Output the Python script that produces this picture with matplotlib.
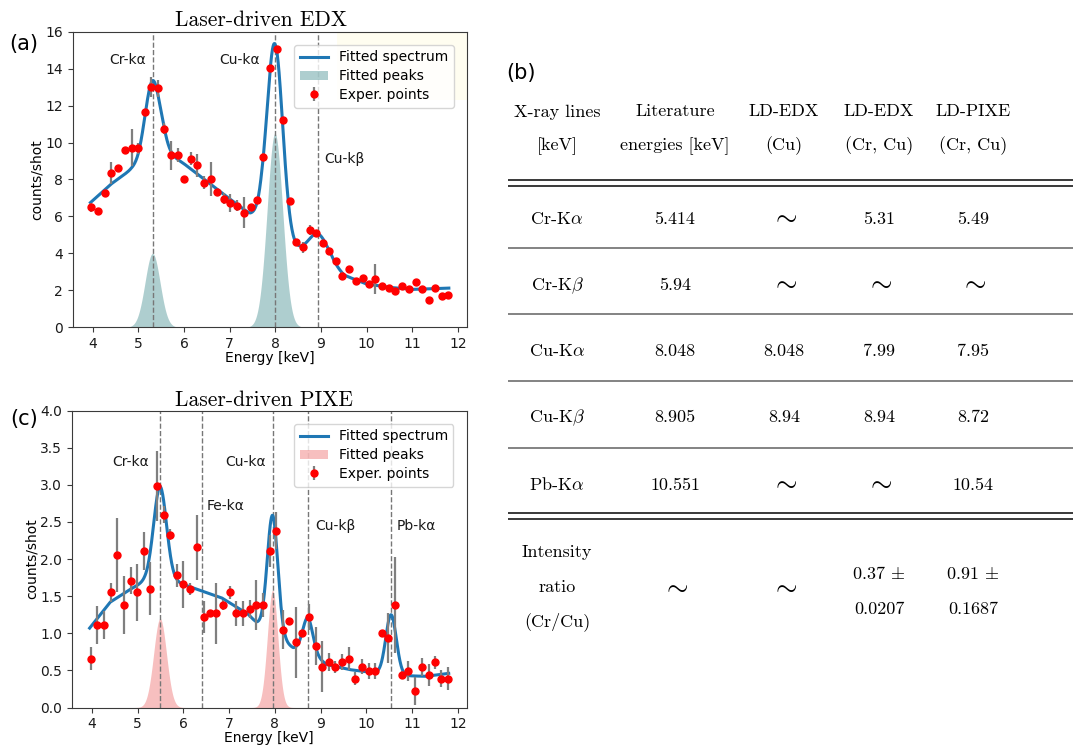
import numpy as np
import matplotlib
matplotlib.use("Agg")
import matplotlib.pyplot as plt
from matplotlib.patches import Patch, Rectangle
from matplotlib.lines import Line2D

plt.rcParams["mathtext.fontset"] = "cm"
plt.rcParams["axes.edgecolor"] = "#3a3a3a"
plt.rcParams["xtick.color"] = "#3a3a3a"
plt.rcParams["ytick.color"] = "#3a3a3a"
plt.rcParams["xtick.labelcolor"] = "#1a1a1a"
plt.rcParams["ytick.labelcolor"] = "#1a1a1a"

# ---------------- measured spectra (bin centres in keV) ----------------
energy = [3.97, 4.12, 4.27, 4.41, 4.55, 4.70, 4.85, 4.99, 5.14, 5.28,
          5.43, 5.57, 5.71, 5.86, 6.00, 6.15, 6.29, 6.44, 6.58, 6.72,
          6.87, 7.01, 7.16, 7.31, 7.46, 7.59, 7.74, 7.89, 8.03, 8.17,
          8.31, 8.46, 8.60, 8.75, 8.89, 9.04, 9.18, 9.32, 9.47, 9.62,
          9.76, 9.91, 10.05, 10.19, 10.34, 10.48, 10.63, 10.77, 10.92, 11.07,
          11.21, 11.36, 11.50, 11.64, 11.79]

edx_counts = [6.49, 6.32, 7.28, 8.34, 8.63, 9.58, 9.71, 9.68, 11.64, 12.99,
              12.94, 10.75, 9.31, 9.33, 8.00, 9.13, 8.76, 7.82, 8.02, 7.30,
              6.97, 6.74, 6.59, 6.20, 6.50, 6.88, 9.22, 14.03, 15.04, 11.24,
              6.86, 4.59, 4.34, 5.26, 5.13, 4.56, 4.11, 3.57, 2.77, 3.13,
              2.49, 2.65, 2.32, 2.61, 2.22, 2.14, 1.95, 2.25, 2.09, 2.45,
              2.09, 1.49, 2.14, 1.68, 1.73]
edx_err = [0.25, 0.12, 0.10, 0.60, 0.10, 0.10, 1.00, 0.30, 0.10, 0.55,
           0.45, 0.30, 0.80, 0.40, 0.05, 0.35, 0.60, 0.35, 0.90, 0.10,
           0.30, 0.50, 0.30, 0.85, 0.10, 0.15, 0.20, 0.10, 0.10, 0.10,
           0.10, 0.10, 0.30, 0.27, 0.10, 0.10, 0.10, 0.10, 0.20, 0.10,
           0.10, 0.15, 0.10, 0.80, 0.10, 0.15, 0.10, 0.10, 0.15, 0.10,
           0.10, 0.15, 0.10, 0.15, 0.10]

pixe_counts = [0.66, 1.11, 1.11, 1.55, 2.05, 1.38, 1.71, 1.55, 2.11, 1.60,
               2.99, 2.60, 2.33, 1.78, 1.66, 1.60, 2.16, 1.22, 1.27, 1.27,
               1.38, 1.55, 1.27, 1.27, 1.33, 1.38, 1.38, 2.11, 2.38, 1.05,
               1.16, 0.88, 1.00, 1.22, 0.83, 0.55, 0.61, 0.55, 0.61, 0.66,
               0.39, 0.55, 0.49, 0.49, 1.00, 0.94, 1.38, 0.44, 0.49, 0.22,
               0.55, 0.44, 0.61, 0.39, 0.39]
pixe_err = [0.16, 0.26, 0.19, 0.13, 0.50, 0.39, 0.18, 0.38, 0.26, 0.36,
            0.47, 0.11, 0.07, 0.16, 0.32, 0.08, 0.44, 0.22, 0.05, 0.41,
            0.07, 0.09, 0.17, 0.17, 0.12, 0.34, 0.16, 0.22, 0.25, 0.26,
            0.05, 0.48, 0.04, 0.18, 0.26, 0.34, 0.12, 0.08, 0.11, 0.16,
            0.09, 0.10, 0.11, 0.11, 0.05, 0.34, 0.65, 0.05, 0.13, 0.19,
            0.12, 0.15, 0.09, 0.11, 0.16]

# ---------------- fit results ----------------
# LD-EDX: Cr-Ka, Cu-Ka, Cu-Kb
edx_peak_centers = [5.31, 7.99, 8.94]
edx_peak_amps = [4.0, 10.5, 1.2]
edx_peak_sigmas = [0.165, 0.17, 0.20]
edx_peak_shaded = [True, True, False]
edx_bg_energy = [3.95, 4.40, 4.85, 5.00, 5.15, 5.31, 5.55, 5.75, 6.00, 7.00,
                 7.45, 7.70, 8.00, 8.40, 8.90, 9.20, 9.50, 10.00, 10.50, 11.00, 11.80]
edx_bg_level = [6.75, 7.75, 8.55, 8.75, 9.05, 9.35, 9.65, 9.25, 8.85, 6.95,
                6.12, 5.95, 4.80, 4.30, 3.90, 3.55, 2.82, 2.34, 2.16, 2.05, 2.12]
edx_line_energies = [5.31, 7.99, 8.94]

# LD-PIXE: Cr-Ka, Cu-Ka, Cu-Kb, Pb-Ka
pixe_peak_centers = [5.49, 7.95, 8.72, 10.54]
pixe_peak_amps = [1.20, 1.58, 0.45, 0.80]
pixe_peak_sigmas = [0.14, 0.115, 0.11, 0.115]
pixe_peak_shaded = [True, True, False, False]
pixe_bg_energy = [3.95, 4.40, 4.83, 5.15, 5.49, 5.80, 6.83, 7.41, 7.60, 7.95,
                  8.40, 8.72, 9.13, 9.64, 10.14, 10.54, 10.80, 11.30, 11.80]
pixe_bg_level = [1.07, 1.42, 1.59, 1.70, 1.78, 1.70, 1.48, 1.26, 1.14, 1.01,
                 0.80, 0.76, 0.58, 0.51, 0.47, 0.45, 0.43, 0.42, 0.46]
pixe_line_energies = [5.49, 6.40, 7.95, 8.72, 10.54]

# ---------------- comparison table ----------------
table_header = [["X-ray lines", "[keV]"],
                ["Literature", "energies [keV]"],
                ["LD-EDX", "(Cu)"],
                ["LD-EDX", "(Cr, Cu)"],
                ["LD-PIXE", "(Cr, Cu)"]]
table_lines = [r"Cr-K$\alpha$", r"Cr-K$\beta$", r"Cu-K$\alpha$", r"Cu-K$\beta$", r"Pb-K$\alpha$"]
lit_energies = ["5.414", "5.94", "8.048", "8.905", "10.551"]
ldedx_cu = [None, None, "8.048", "8.94", None]
ldedx_crcu = ["5.31", None, "7.99", "8.94", None]
ldpixe_crcu = ["5.49", None, "7.95", "8.72", "10.54"]
ratio_label = ["Intensity", "ratio", "(Cr/Cu)"]
ratio_values = [None, None, [r"0.37 $\pm$", "0.0207"], [r"0.91 $\pm$", "0.1687"]]


def fit_model(e, centers, amps, sigmas, bg_e, bg_v):
    comps = [a * np.exp(-0.5 * ((e - c) / s) ** 2) for c, a, s in zip(centers, amps, sigmas)]
    total = np.interp(e, bg_e, bg_v) + np.sum(comps, axis=0)
    return total, comps


W, H = 1073, 746
fig = plt.figure(figsize=(W / 100, H / 100), dpi=100)

# overlay in pixel units for panel letters, titles and the table
ov = fig.add_axes([0, 0, 1, 1])
ov.set_xlim(0, W)
ov.set_ylim(H, 0)
ov.axis("off")

ax_a = fig.add_axes([0.0676, 0.5613, 0.3674, 0.3962])
ax_c = fig.add_axes([0.0668, 0.0516, 0.3681, 0.3979])

e_fine = np.linspace(energy[0] - 0.02, energy[-1] + 0.01, 1200)


def draw_panel(ax, counts, err, centers, amps, sigmas, shaded, bg_e, bg_v,
               lines, shade_color, ylim, yticks, labels):
    total, comps = fit_model(e_fine, centers, amps, sigmas, bg_e, bg_v)
    for comp, sh in zip(comps, shaded):
        if sh:
            ax.fill_between(e_fine, 0, comp, color=shade_color, alpha=0.5, lw=0, zorder=1)
    for xv in lines:
        ax.axvline(xv, color="#777777", lw=1.0, ls="--", zorder=2)
    ax.plot(e_fine, total, color="#1f77b4", lw=2.2, zorder=3)
    ax.errorbar(energy, counts, yerr=err, fmt="o", color="red", ms=5,
                ecolor="#7f7f7f", elinewidth=1.6, capsize=0, zorder=4)
    for txt, xe, yv in labels:
        ax.text(xe, yv, txt, ha="center", va="center", fontsize=10, color="#1a1a1a")
    ax.set_ylim(*ylim)
    ax.set_yticks(yticks)
    ax.set_xticks(range(4, 13))
    ax.set_xlabel("Energy [keV]", fontsize=10, labelpad=0)
    ax.set_ylabel("counts/shot", fontsize=10, labelpad=1)
    ax.tick_params(labelsize=10)
    handles = [Line2D([], [], color="#1f77b4", lw=2.2),
               Patch(facecolor=shade_color, alpha=0.5, lw=0),
               ax.errorbar([], [], yerr=[], fmt="o", color="red", ms=5,
                           ecolor="#7f7f7f", elinewidth=1.6)]
    ax.legend(handles, ["Fitted spectrum", "Fitted peaks", "Exper. points"],
              loc="upper right", fontsize=10, borderaxespad=0.95,
              handlelength=2.0, labelspacing=0.35)


draw_panel(ax_a, edx_counts, edx_err, edx_peak_centers, edx_peak_amps, edx_peak_sigmas,
           edx_peak_shaded, edx_bg_energy, edx_bg_level, edx_line_energies,
           "cadetblue", (0, 16), range(0, 17, 2),
           [("Cr-kα", 4.76, 14.45), ("Cu-kα", 7.21, 14.45), ("Cu-kβ", 9.51, 9.1)])
ax_a.add_patch(Rectangle((0.67, 0.77), 0.33, 0.23, transform=ax_a.transAxes,
                         facecolor="#fffdf0", edgecolor="none", zorder=0))

draw_panel(ax_c, pixe_counts, pixe_err, pixe_peak_centers, pixe_peak_amps, pixe_peak_sigmas,
           pixe_peak_shaded, pixe_bg_energy, pixe_bg_level, pixe_line_energies,
           "lightcoral", (0, 4.0), np.arange(0, 4.01, 0.5),
           [("Cr-kα", 4.85, 3.31), ("Fe-kα", 6.92, 2.72), ("Cu-kα", 7.36, 3.31),
            ("Cu-kβ", 9.32, 2.44), ("Pb-kα", 11.1, 2.44)])
ax_c.yaxis.set_major_formatter(matplotlib.ticker.FormatStrFormatter("%.1f"))

# titles and panel letters
ov.text(175, 26, "Laser-driven EDX", family="cmr10", fontsize=15.5, ha="left", va="baseline")
ov.text(175, 406, "Laser-driven PIXE", family="cmr10", fontsize=15.5, ha="left", va="baseline")
ov.text(24, 44, "(a)", fontsize=15, ha="center", va="center")
ov.text(24, 419, "(c)", fontsize=15, ha="center", va="center")
ov.text(521, 73, "(b)", fontsize=15, ha="center", va="center")

# table
col_x = [557, 675, 784, 879, 973]
tfs = 13
tilde_fs = 20
for cx, (h1, h2) in zip(col_x, table_header):
    ov.text(cx, 116.5, h1, family="cmr10", fontsize=tfs, ha="center", va="baseline")
    ov.text(cx, 150, h2, family="cmr10", fontsize=tfs, ha="center", va="baseline")

row_base = [224, 290, 356, 422, 490]
columns = [table_lines, lit_energies, ldedx_cu, ldedx_crcu, ldpixe_crcu]
for cx, col in zip(col_x, columns):
    for yb, val in zip(row_base, col):
        if val is None:
            ov.text(cx, yb - 8, r"$\sim$", fontsize=tilde_fs, ha="center", va="center")
        else:
            ov.text(cx, yb, val, family="cmr10", fontsize=tfs, ha="center", va="baseline")

for yb, txt in zip([557, 592, 626], ratio_label):
    ov.text(col_x[0], yb, txt, family="cmr10", fontsize=tfs, ha="center", va="baseline")
for cx, val in zip(col_x[1:], ratio_values):
    if val is None:
        ov.text(cx, 586, r"$\sim$", fontsize=tilde_fs, ha="center", va="center")
    else:
        ov.text(cx, 579, val[0], family="cmr10", fontsize=tfs, ha="center", va="baseline")
        ov.text(cx, 614, val[1], family="cmr10", fontsize=tfs, ha="center", va="baseline")

x0, x1 = 508, 1073
for yl in [180, 186, 513, 519]:
    ov.plot([x0, x1], [yl, yl], color="#2a2a2a", lw=1.3, solid_capstyle="butt")
for yl in [248, 314, 381, 448]:
    ov.plot([x0, x1], [yl, yl], color="#7a7a7a", lw=1.3, solid_capstyle="butt")

fig.savefig("out.png", dpi=100)
